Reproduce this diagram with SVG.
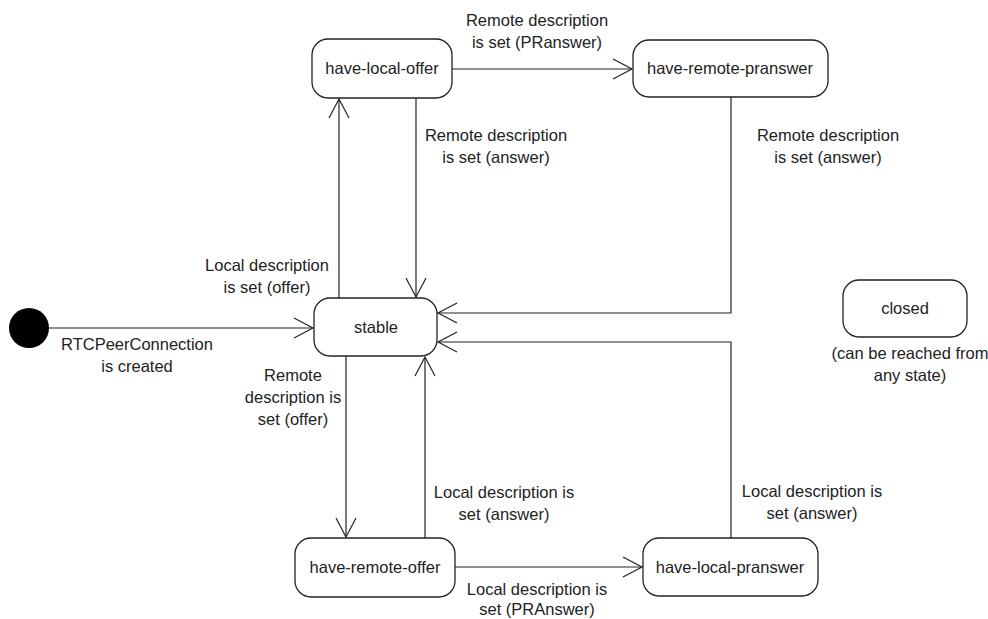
<svg xmlns="http://www.w3.org/2000/svg" width="988" height="619" viewBox="0 0 988 619">
<defs>
<style>
.node rect{fill:#fff;stroke:#222;stroke-width:1.3}
.t{font-family:"Liberation Sans",Arial,sans-serif;font-size:16.5px;fill:#222;text-anchor:middle}
.edge{fill:none;stroke:#222;stroke-width:1.2}
</style>
<marker id="arr" markerUnits="userSpaceOnUse" viewBox="-21 -12 23 24" markerWidth="23" markerHeight="24" refX="0" refY="0" orient="auto">
<path d="M-19,-10 L0,0 L-19,10" fill="none" stroke="#222" stroke-width="1.2"/>
</marker>
</defs>
<rect width="988" height="619" fill="#fff"/>
<g id="connectors">
<path class="edge" d="M49,328 H313" marker-end="url(#arr)"/>
<path class="edge" d="M339,298 V99" marker-end="url(#arr)"/>
<path class="edge" d="M416,98 V297" marker-end="url(#arr)"/>
<path class="edge" d="M452,69 H632" marker-end="url(#arr)"/>
<path class="edge" d="M731,97 V313 H438" marker-end="url(#arr)"/>
<path class="edge" d="M731,538 V342 H438" marker-end="url(#arr)"/>
<path class="edge" d="M346,356 V537" marker-end="url(#arr)"/>
<path class="edge" d="M425,538 V357" marker-end="url(#arr)"/>
<path class="edge" d="M455,567 H642" marker-end="url(#arr)"/>
<text class="t" x="537" y="26">Remote description</text>
<text class="t" x="537" y="48">is set (PRanswer)</text>
<text class="t" x="496" y="141">Remote description</text>
<text class="t" x="496" y="163">is set (answer)</text>
<text class="t" x="828" y="141">Remote description</text>
<text class="t" x="828" y="163">is set (answer)</text>
<text class="t" x="267" y="271">Local description</text>
<text class="t" x="267" y="293">is set (offer)</text>
<text class="t" x="137" y="350">RTCPeerConnection</text>
<text class="t" x="137" y="372">is created</text>
<text class="t" x="293" y="381">Remote</text>
<text class="t" x="293" y="403">description is</text>
<text class="t" x="293" y="425">set (offer)</text>
<text class="t" x="504" y="498">Local description is</text>
<text class="t" x="504" y="520">set (answer)</text>
<text class="t" x="812" y="497">Local description is</text>
<text class="t" x="812" y="519">set (answer)</text>
<text class="t" x="537" y="595">Local description is</text>
<text class="t" x="537" y="615">set (PRAnswer)</text>
</g>
<g id="initial"><circle cx="29" cy="328" r="20" fill="#000"/></g>
<g id="have-local-offer" class="node"><rect x="312" y="39" width="140" height="59" rx="16"/><text class="t" x="382" y="74">have-local-offer</text></g>
<g id="have-remote-pranswer" class="node"><rect x="633" y="40" width="195" height="57" rx="16"/><text class="t" x="730" y="74">have-remote-pranswer</text></g>
<g id="stable" class="node"><rect x="314" y="298" width="123" height="58" rx="16"/><text class="t" x="376" y="333">stable</text></g>
<g id="have-remote-offer" class="node"><rect x="295" y="538" width="160" height="59" rx="16"/><text class="t" x="375" y="573">have-remote-offer</text></g>
<g id="have-local-pranswer" class="node"><rect x="643" y="538" width="175" height="58" rx="16"/><text class="t" x="730" y="573">have-local-pranswer</text></g>
<g id="closed" class="node"><rect x="843" y="280" width="124" height="57" rx="16"/><text class="t" x="905" y="314">closed</text><text class="t" x="910" y="359">(can be reached from</text><text class="t" x="910" y="381">any state)</text></g>
</svg>
